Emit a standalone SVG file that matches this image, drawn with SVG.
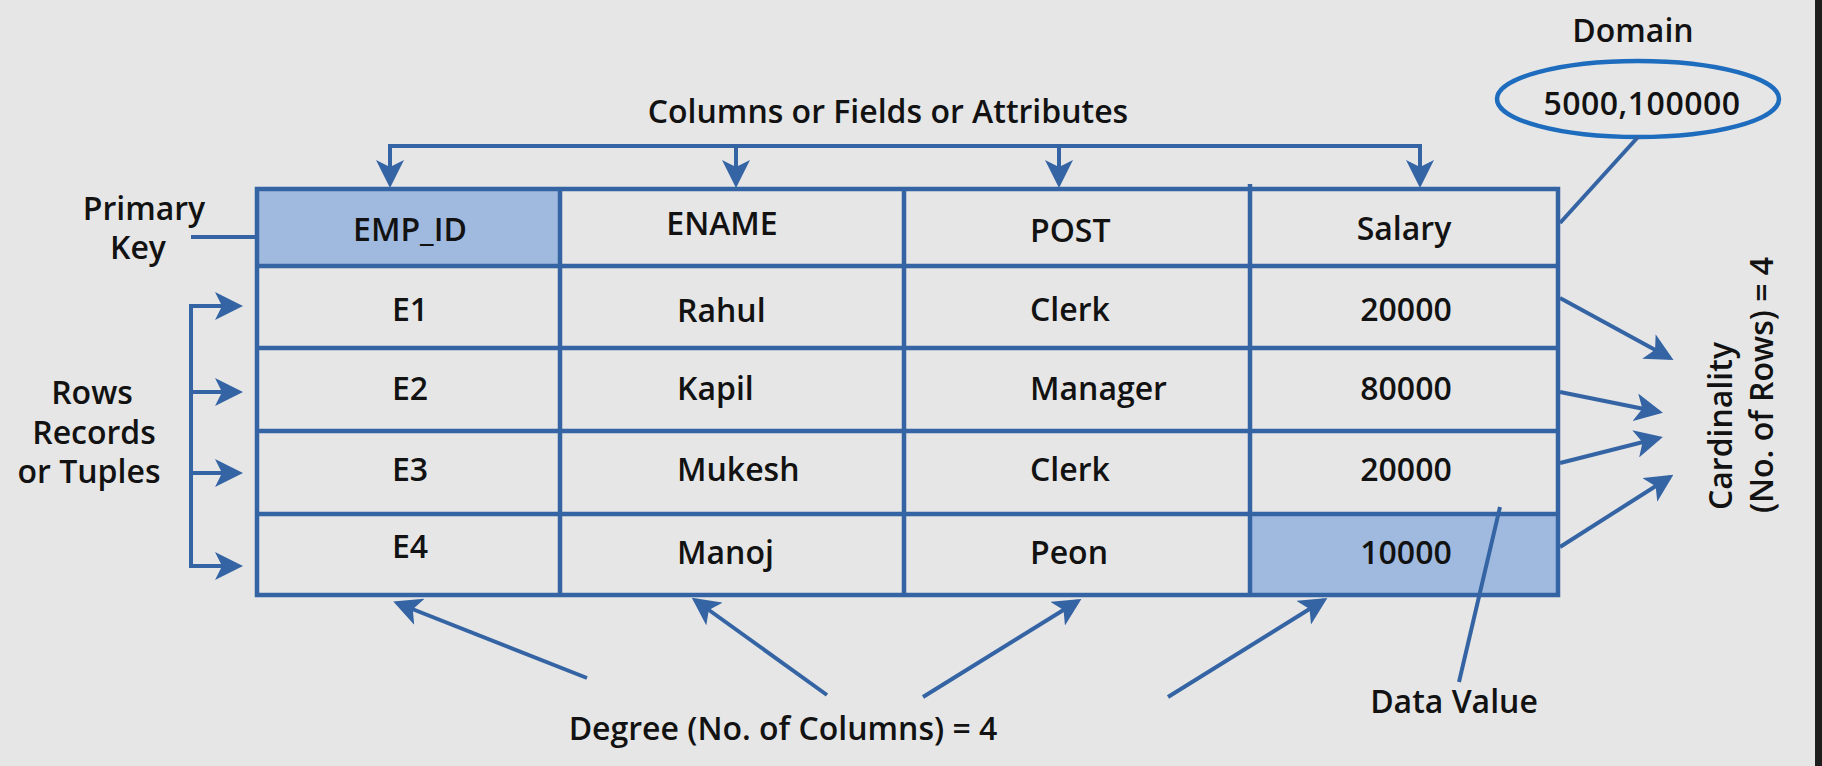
<svg xmlns="http://www.w3.org/2000/svg" width="1822" height="766" viewBox="0 0 1822 766">
<style>
text{font-family:"Open Sans","Noto Sans","Liberation Sans",sans-serif;font-size:32px;font-weight:600;fill:#121212}
.m{text-anchor:middle}
.grid{stroke:#3564a4;stroke-width:4.5;fill:none}
.con{stroke:#3564a4;stroke-width:4;fill:none}
.hl{fill:#a0badf}
</style>
<defs>
<marker id="ah" markerUnits="userSpaceOnUse" viewBox="0 0 28 28" refX="24" refY="14" markerWidth="28" markerHeight="28" orient="auto">
<path d="M0,0 L28,14 L0,28 L7,14 Z" fill="#3564a4"/>
</marker>
</defs>
<rect x="0" y="0" width="1822" height="766" fill="#e6e6e6"/>
<rect x="1815" y="0" width="7" height="766" fill="#1e1e1e"/>

<g id="table">
<rect id="hl-empid" class="hl" x="257" y="189" width="303" height="77"/>
<rect id="hl-10000" class="hl" x="1250" y="514" width="308" height="81"/>
<rect class="grid" x="257" y="189" width="1301" height="406"/>
<path class="grid" d="M560,189 V595 M904,187 V595 M1250,184 V595 M257,266 H1558 M257,348 H1558 M257,431 H1558 M257,514 H1558"/>
<g id="header">
<text class="m" x="410" y="241">EMP_ID</text>
<text class="m" x="722" y="235">ENAME</text>
<text x="1030" y="242">POST</text>
<text class="m" x="1404" y="240">Salary</text>
</g>
<g id="row1">
<text class="m" x="410" y="321">E1</text>
<text x="677" y="322">Rahul</text>
<text x="1030" y="321">Clerk</text>
<text class="m" x="1406" y="321">20000</text>
</g>
<g id="row2">
<text class="m" x="410" y="400">E2</text>
<text x="677" y="400">Kapil</text>
<text x="1030" y="400">Manager</text>
<text class="m" x="1406" y="400">80000</text>
</g>
<g id="row3">
<text class="m" x="410" y="481">E3</text>
<text x="677" y="481">Mukesh</text>
<text x="1030" y="481">Clerk</text>
<text class="m" x="1406" y="481">20000</text>
</g>
<g id="row4">
<text class="m" x="410" y="558">E4</text>
<text x="677" y="564">Manoj</text>
<text x="1030" y="564">Peon</text>
<text class="m" x="1406" y="564">10000</text>
</g>
</g>

<g id="label-columns"><text class="m" x="888" y="123">Columns or Fields or Attributes</text></g>
<g id="label-primary-key"><text class="m" x="144" y="220">Primary</text><text class="m" x="138" y="259">Key</text></g>
<g id="label-rows"><text class="m" x="92" y="404">Rows</text><text class="m" x="94" y="444">Records</text><text class="m" x="89" y="483">or Tuples</text></g>
<g id="label-domain"><text class="m" x="1633" y="42">Domain</text></g>
<g id="domain-ellipse"><ellipse cx="1638" cy="99" rx="141" ry="38" fill="none" stroke="#1e6cbd" stroke-width="4.5"/><text class="m" x="1642" y="115" letter-spacing="0.5">5000,100000</text></g>
<g id="label-cardinality">
<text class="m" transform="translate(1732,426) rotate(-90)">Cardinality</text>
<text class="m" transform="translate(1773,385) rotate(-90)">(No. of Rows) = 4</text>
</g>
<g id="label-data-value"><text class="m" x="1454" y="713">Data Value</text></g>
<g id="label-degree"><text class="m" x="783" y="740">Degree (No. of Columns) = 4</text></g>

<g id="connectors">
<path class="con" stroke-linecap="square" d="M390,146 H1420"/>
<path class="con" marker-end="url(#ah)" d="M390,146 V184"/>
<path class="con" marker-end="url(#ah)" d="M736,146 V184"/>
<path class="con" marker-end="url(#ah)" d="M1059,146 V184"/>
<path class="con" marker-end="url(#ah)" d="M1420,146 V184"/>
<path class="con" d="M191,237 H257"/>
<path class="con" stroke-linecap="square" d="M191,306 V566"/>
<path class="con" marker-end="url(#ah)" d="M191,306 H239"/>
<path class="con" marker-end="url(#ah)" d="M191,392 H239"/>
<path class="con" marker-end="url(#ah)" d="M191,473 H239"/>
<path class="con" marker-end="url(#ah)" d="M191,566 H239"/>
<path class="con" d="M1638,137 L1560,223"/>
<path class="con" marker-end="url(#ah)" d="M1560,298 L1670,358"/>
<path class="con" marker-end="url(#ah)" d="M1560,392 L1659,412"/>
<path class="con" marker-end="url(#ah)" d="M1560,463 L1659,438"/>
<path class="con" marker-end="url(#ah)" d="M1560,547 L1670,477"/>
<path class="con" d="M1500,507 L1459,682"/>
<path class="con" marker-end="url(#ah)" d="M587,678 L397,603"/>
<path class="con" marker-end="url(#ah)" d="M827,695 L695,600"/>
<path class="con" marker-end="url(#ah)" d="M923,697 L1078,601"/>
<path class="con" marker-end="url(#ah)" d="M1168,697 L1324,600"/>
</g>
</svg>
